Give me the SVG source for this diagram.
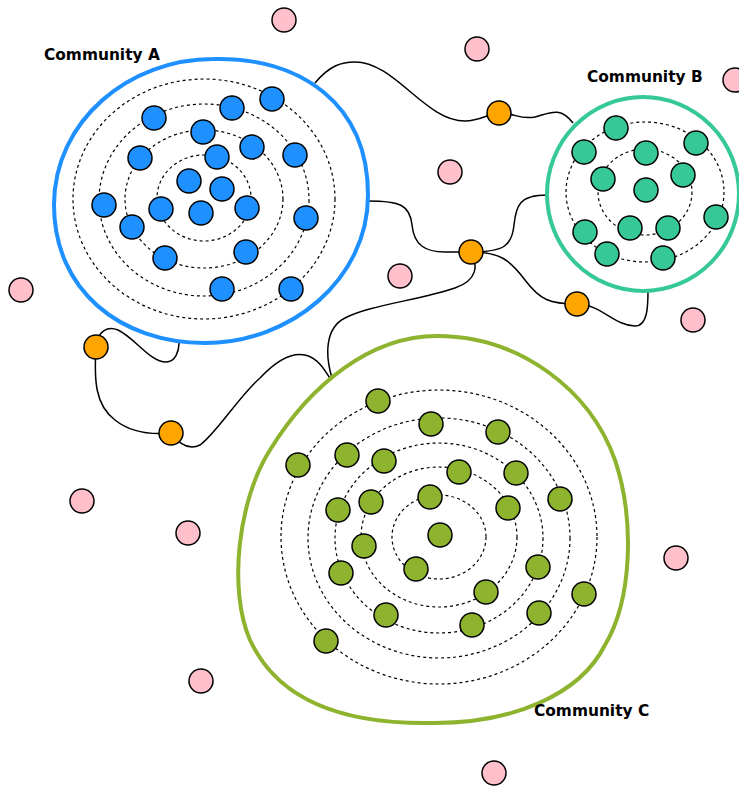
<svg xmlns="http://www.w3.org/2000/svg" width="739" height="789" viewBox="0 0 739 789">
<style>
.bg{fill:#ffffff}
.edge{fill:none;stroke:#000;stroke-width:1.5}
.ring{fill:none;stroke:#000;stroke-width:1.2;stroke-dasharray:3,3}
.n{stroke:#000;stroke-width:1.5}
.a{fill:#1E90FF}
.b{fill:#36C896}
.c{fill:#8DB32F}
.o{fill:#FFA500}
.p{fill:#FFC0CB}
.lbl{font-family:"DejaVu Sans","Liberation Sans",sans-serif;font-weight:bold;font-size:15.4px;fill:#000}
</style>
<rect class="bg" x="0" y="0" width="739" height="789"/>
<g id="connectors">
<path class="edge" d="M315,83 C330,65 342,62 355,62 C395,62 425,121 465,121 C480,121 490,113 499,113"/>
<path class="edge" d="M499,113 C515,113 520,120 535,117 C550,113 560,106 573,123"/>
<path class="edge" d="M368,201 C400,201 410,205 412,225 C414,245 425,252 445,252 L471,252"/>
<path class="edge" d="M471,252 C505,252 512,245 514,225 C516,205 520,195 547,195"/>
<path class="edge" d="M471,252 C500,252 510,260 525,280 C540,300 550,304 577,304 C600,304 615,326 635,326 C648,326 648,305 648,290"/>
<path class="edge" d="M471,252 C478,265 478,280 455,288 C420,300 370,305 345,318 C325,328 325,355 332,378"/>
<path class="edge" d="M171,433 C180,445 190,450 200,445 C215,435 240,395 260,378 C275,362 290,352 305,355 C318,358 325,370 331,380"/>
<path class="edge" d="M96,347 C98,330 108,326 118,330 C135,338 150,362 166,362 C176,362 179,350 179,343"/>
<path class="edge" d="M96,347 C94,380 95,405 115,420 C130,432 150,435 171,433"/>
</g>
<g id="community-a">
<path d="M213,59 C300,57 368,103 368,195 C368,280 290,343 205,343 C120,343 54,290 54,205 C54,120 130,59 213,59 Z" fill="none" stroke="#1E90FF" stroke-width="4"/>
<ellipse class="ring" cx="204" cy="198" rx="47" ry="43"/>
<ellipse class="ring" cx="204" cy="199" rx="79" ry="69"/>
<ellipse class="ring" cx="204" cy="200" rx="105" ry="96"/>
<ellipse class="ring" cx="204" cy="199" rx="131" ry="120"/>
<text class="lbl" x="44" y="60">Community A</text>
</g>
<g id="a-nodes">
<circle class="n a" cx="154" cy="118" r="12"/>
<circle class="n a" cx="232" cy="108" r="12"/>
<circle class="n a" cx="272" cy="99" r="12"/>
<circle class="n a" cx="203" cy="132" r="12"/>
<circle class="n a" cx="252" cy="147" r="12"/>
<circle class="n a" cx="295" cy="155" r="12"/>
<circle class="n a" cx="140" cy="158" r="12"/>
<circle class="n a" cx="217" cy="157" r="12"/>
<circle class="n a" cx="189" cy="181" r="12"/>
<circle class="n a" cx="222" cy="189" r="12"/>
<circle class="n a" cx="104" cy="205" r="12"/>
<circle class="n a" cx="161" cy="209" r="12"/>
<circle class="n a" cx="201" cy="213" r="12"/>
<circle class="n a" cx="247" cy="208" r="12"/>
<circle class="n a" cx="306" cy="218" r="12"/>
<circle class="n a" cx="132" cy="227" r="12"/>
<circle class="n a" cx="165" cy="258" r="12"/>
<circle class="n a" cx="246" cy="252" r="12"/>
<circle class="n a" cx="222" cy="289" r="12"/>
<circle class="n a" cx="291" cy="289" r="12"/>
</g>
<g id="community-b">
<ellipse cx="643" cy="194" rx="96" ry="97" fill="none" stroke="#36C896" stroke-width="4"/>
<ellipse class="ring" cx="645" cy="192" rx="47" ry="43"/>
<ellipse class="ring" cx="645" cy="192" rx="79" ry="70"/>
<text class="lbl" x="587" y="82">Community B</text>
</g>
<g id="b-nodes">
<circle class="n b" cx="616" cy="128" r="12"/>
<circle class="n b" cx="584" cy="152" r="12"/>
<circle class="n b" cx="646" cy="153" r="12"/>
<circle class="n b" cx="696" cy="143" r="12"/>
<circle class="n b" cx="603" cy="179" r="12"/>
<circle class="n b" cx="683" cy="175" r="12"/>
<circle class="n b" cx="646" cy="190" r="12"/>
<circle class="n b" cx="716" cy="217" r="12"/>
<circle class="n b" cx="585" cy="232" r="12"/>
<circle class="n b" cx="630" cy="228" r="12"/>
<circle class="n b" cx="668" cy="228" r="12"/>
<circle class="n b" cx="607" cy="254" r="12"/>
<circle class="n b" cx="663" cy="258" r="12"/>
</g>
<g id="community-c">
<path d="M437,336 C520,336 590,390 615,460 C635,520 632,600 605,645 C580,695 512,724 430,723 C350,724 280,705 250,640 C228,590 238,500 270,450 C310,385 370,336 437,336 Z" fill="none" stroke="#8DB32F" stroke-width="4"/>
<ellipse class="ring" cx="439" cy="537" rx="47" ry="42"/>
<ellipse class="ring" cx="439" cy="537" rx="78" ry="70"/>
<ellipse class="ring" cx="439" cy="538" rx="104" ry="95"/>
<ellipse class="ring" cx="439" cy="538" rx="131" ry="120"/>
<ellipse class="ring" cx="439" cy="537" rx="158" ry="147"/>
<text class="lbl" x="534" y="716">Community C</text>
</g>
<g id="c-nodes">
<circle class="n c" cx="378" cy="401" r="12"/>
<circle class="n c" cx="431" cy="424" r="12"/>
<circle class="n c" cx="498" cy="432" r="12"/>
<circle class="n c" cx="298" cy="465" r="12"/>
<circle class="n c" cx="347" cy="455" r="12"/>
<circle class="n c" cx="384" cy="461" r="12"/>
<circle class="n c" cx="459" cy="472" r="12"/>
<circle class="n c" cx="516" cy="473" r="12"/>
<circle class="n c" cx="560" cy="499" r="12"/>
<circle class="n c" cx="338" cy="510" r="12"/>
<circle class="n c" cx="371" cy="502" r="12"/>
<circle class="n c" cx="430" cy="497" r="12"/>
<circle class="n c" cx="508" cy="508" r="12"/>
<circle class="n c" cx="440" cy="535" r="12"/>
<circle class="n c" cx="364" cy="546" r="12"/>
<circle class="n c" cx="416" cy="569" r="12"/>
<circle class="n c" cx="341" cy="573" r="12"/>
<circle class="n c" cx="538" cy="567" r="12"/>
<circle class="n c" cx="486" cy="592" r="12"/>
<circle class="n c" cx="584" cy="594" r="12"/>
<circle class="n c" cx="386" cy="615" r="12"/>
<circle class="n c" cx="472" cy="625" r="12"/>
<circle class="n c" cx="539" cy="613" r="12"/>
<circle class="n c" cx="326" cy="641" r="12"/>
</g>
<g id="bridge-nodes">
<circle class="n o" cx="499" cy="113" r="12"/>
<circle class="n o" cx="471" cy="252" r="12"/>
<circle class="n o" cx="577" cy="304" r="12"/>
<circle class="n o" cx="96" cy="347" r="12"/>
<circle class="n o" cx="171" cy="433" r="12"/>
</g>
<g id="outlier-nodes">
<circle class="n p" cx="284" cy="20" r="12"/>
<circle class="n p" cx="477" cy="49" r="12"/>
<circle class="n p" cx="735" cy="80" r="12"/>
<circle class="n p" cx="450" cy="172" r="12"/>
<circle class="n p" cx="400" cy="276" r="12"/>
<circle class="n p" cx="21" cy="290" r="12"/>
<circle class="n p" cx="693" cy="320" r="12"/>
<circle class="n p" cx="82" cy="501" r="12"/>
<circle class="n p" cx="188" cy="533" r="12"/>
<circle class="n p" cx="676" cy="558" r="12"/>
<circle class="n p" cx="201" cy="681" r="12"/>
<circle class="n p" cx="494" cy="773" r="12"/>
</g>
</svg>
